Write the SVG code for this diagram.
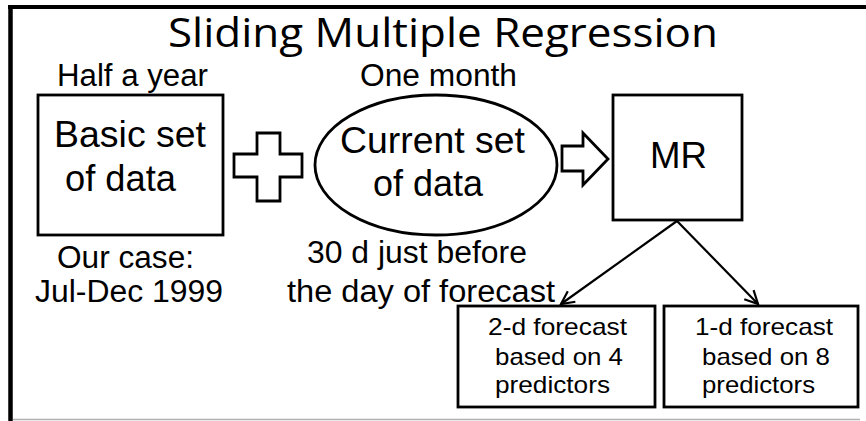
<svg xmlns="http://www.w3.org/2000/svg" width="866" height="421" viewBox="0 0 866 421">
  <style>
    .shape { fill: #ffffff; stroke: #000000; stroke-width: 2.8; }
    .big { font-family: "Liberation Sans", Arial, sans-serif; font-size: 36px; fill: #000; }
    .mid { font-family: "Liberation Sans", Arial, sans-serif; font-size: 31px; fill: #000; }
    .small { font-family: "Liberation Sans", Arial, sans-serif; font-size: 24px; fill: #000; }
    .title { font-family: "Open Sans", "Noto Sans", sans-serif; font-size: 41px; fill: #000; }
    .conn { fill: none; stroke: #000; stroke-width: 2.2; }
  </style>
  <defs>
    <marker id="open-arrow" viewBox="0 0 16 16" refX="14" refY="8" markerWidth="16" markerHeight="16" markerUnits="userSpaceOnUse" orient="auto">
      <path d="M1,1.5 L14,8 L1,14.5" fill="none" stroke="#000" stroke-width="2.2"/>
    </marker>
  </defs>

  <rect width="866" height="421" fill="#ffffff"/>

  <!-- frame -->
  <g id="frame">
    <line x1="8" y1="7" x2="866" y2="7" stroke="#000" stroke-width="4"/>
    <line x1="10.5" y1="5" x2="10.5" y2="421" stroke="#000" stroke-width="4.5"/>
    <line x1="13" y1="419.5" x2="860" y2="419.5" stroke="#b0b0b0" stroke-width="1.5"/>
  </g>

  <g id="title">
    <text class="title" x="168" y="47" textLength="550" lengthAdjust="spacingAndGlyphs">Sliding Multiple Regression</text>
  </g>

  <!-- basic data set -->
  <g id="basic-set">
    <text class="mid" x="57" y="86" textLength="151" lengthAdjust="spacingAndGlyphs">Half a year</text>
    <rect class="shape" x="38" y="95" width="185" height="140"/>
    <text class="big" x="54" y="147" textLength="152" lengthAdjust="spacingAndGlyphs">Basic set</text>
    <text class="big" x="65" y="191" textLength="111" lengthAdjust="spacingAndGlyphs">of data</text>
    <text class="mid" x="57" y="268" textLength="137" lengthAdjust="spacingAndGlyphs">Our case:</text>
    <text class="mid" x="35" y="302" textLength="188" lengthAdjust="spacingAndGlyphs">Jul-Dec 1999</text>
  </g>

  <!-- plus sign -->
  <g id="plus">
    <path class="shape" d="M257,133 H280 V154 H302 V177 H280 V201 H257 V177 H234 V154 H257 Z"/>
  </g>

  <!-- current data set -->
  <g id="current-set">
    <text class="mid" x="360" y="86" textLength="157" lengthAdjust="spacingAndGlyphs">One month</text>
    <ellipse class="shape" cx="436" cy="165" rx="121" ry="70"/>
    <text class="big" x="340" y="153" textLength="185" lengthAdjust="spacingAndGlyphs">Current set</text>
    <text class="big" x="373" y="196" textLength="110" lengthAdjust="spacingAndGlyphs">of data</text>
    <text class="mid" x="307" y="263" textLength="220" lengthAdjust="spacingAndGlyphs">30 d just before</text>
    <text class="mid" x="287" y="302" textLength="268" lengthAdjust="spacingAndGlyphs">the day of forecast</text>
  </g>

  <!-- block arrow -->
  <g id="block-arrow">
    <path class="shape" d="M562,146 H583 V133 L608,159 L583,185 V171 H562 Z"/>
  </g>

  <!-- regression box -->
  <g id="mr">
    <rect class="shape" x="613" y="95" width="129" height="125"/>
    <text class="big" x="650" y="168" textLength="57" lengthAdjust="spacingAndGlyphs">MR</text>
  </g>

  <!-- forecasts -->
  <g id="forecast-2d">
    <rect class="shape" x="458" y="306" width="197" height="101"/>
    <text class="small" x="488" y="335" textLength="139" lengthAdjust="spacingAndGlyphs">2-d forecast</text>
    <text class="small" x="495" y="365" textLength="128" lengthAdjust="spacingAndGlyphs">based on 4</text>
    <text class="small" x="495" y="393" textLength="115" lengthAdjust="spacingAndGlyphs">predictors</text>
  </g>

  <g id="forecast-1d">
    <rect class="shape" x="664" y="306" width="194" height="101"/>
    <text class="small" x="695" y="335" textLength="138" lengthAdjust="spacingAndGlyphs">1-d forecast</text>
    <text class="small" x="702" y="365" textLength="128" lengthAdjust="spacingAndGlyphs">based on 8</text>
    <text class="small" x="702" y="393" textLength="113" lengthAdjust="spacingAndGlyphs">predictors</text>
  </g>

  <g id="connectors">
    <line class="conn" x1="677" y1="221" x2="561" y2="304" marker-end="url(#open-arrow)"/>
    <line class="conn" x1="677" y1="221" x2="758" y2="304" marker-end="url(#open-arrow)"/>
  </g>
</svg>
